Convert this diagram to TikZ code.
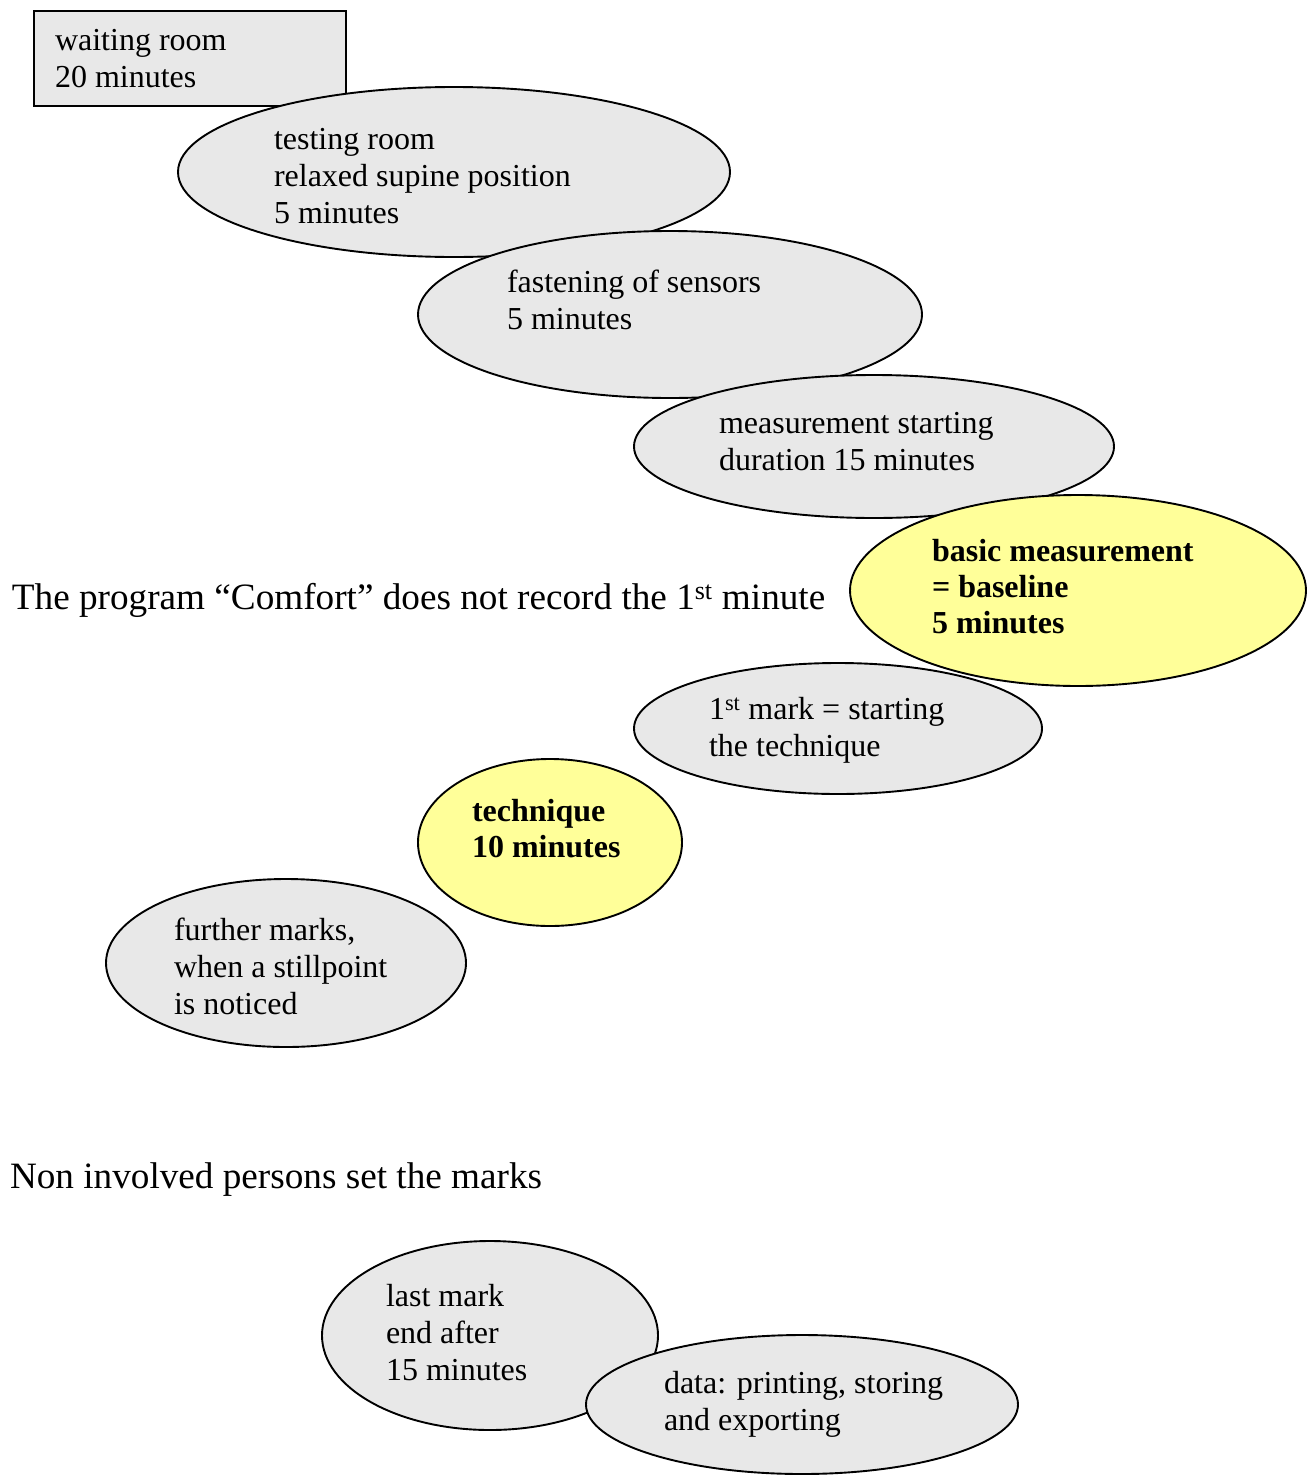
\documentclass[tikz,border=0pt]{standalone}
\usepackage{fontspec}
\setmainfont{Liberation Serif}
\usetikzlibrary{shapes.geometric}
\definecolor{boxgray}{HTML}{E8E8E8}
\definecolor{boxyellow}{HTML}{FFFF99}
\tikzset{
  outline/.style={draw=black, line width=1.9pt, inner sep=0pt, outer sep=0pt},
  rectbox/.style={outline, rectangle, fill=boxgray},
  grayell/.style={outline, ellipse, fill=boxgray},
  yellowell/.style={outline, ellipse, fill=boxyellow},
  txt/.style={anchor=base west, inner sep=0pt, outer sep=0pt, font=\fontsize{32}{37}\selectfont},
  boldtxt/.style={anchor=base west, inner sep=0pt, outer sep=0pt, font=\fontsize{32}{36}\selectfont\bfseries},
  bigtxt/.style={anchor=base west, inner sep=0pt, outer sep=0pt, font=\fontsize{37.2}{42}\selectfont}
}
\newcommand{\lines}[1]{\begin{tabular}[t]{@{}l@{}}#1\end{tabular}}
\begin{document}
\begin{tikzpicture}[x=1pt,y=-1pt]
\useasboundingbox (0,0) rectangle (1312,1475);
% waiting room
\node[rectbox, minimum width=312pt, minimum height=95pt] (r1) at (190,58.5) {};
\node[txt] (t1) at (55,50) {\lines{waiting room\\20 minutes}};
% testing room
\node[grayell, minimum width=552pt, minimum height=170pt] (e2) at (454,172) {};
\node[txt] (t2) at (274,149) {\lines{testing room\\relaxed supine position\\5 minutes}};
% fastening
\node[grayell, minimum width=504pt, minimum height=167pt] (e3) at (670,314.5) {};
\node[txt] (t3) at (507,292.5) {\lines{fastening of sensors\\5 minutes}};
% measurement starting
\node[grayell, minimum width=480pt, minimum height=143pt] (e4) at (874,446.5) {};
\node[txt] (t4) at (719,433.5) {\lines{measurement starting\\duration 15 minutes}};
% basic measurement
\node[yellowell, minimum width=456pt, minimum height=191pt] (e5) at (1078,590.5) {};
\node[boldtxt] (t5) at (932,561) {\lines{basic measurement\\= baseline\\5 minutes}};
% program note
\node[bigtxt] (n1) at (12,609) {The program “Comfort” does not record the 1\textsuperscript{st} minute};
% 1st mark
\node[grayell, minimum width=408pt, minimum height=131pt] (e6) at (838,728.5) {};
\node[txt] (t6) at (709,719.5) {\lines{1\textsuperscript{st} mark = starting\\the technique}};
% technique
\node[yellowell, minimum width=264pt, minimum height=167pt] (e7) at (550,842.5) {};
\node[boldtxt] (t7) at (472,821.5) {\lines{technique\\10 minutes}};
% further marks
\node[grayell, minimum width=360pt, minimum height=168pt] (e8) at (286,963) {};
\node[txt] (t8) at (174,940.5) {\lines{further marks,\\when a stillpoint\\is noticed}};
% note 2
\node[bigtxt] (n2) at (10,1188) {Non involved persons set the marks};
% last mark
\node[grayell, minimum width=336pt, minimum height=189pt] (e9) at (490,1335.5) {};
\node[txt] (t9) at (386,1306.5) {\lines{last mark\\end after\\15 minutes}};
% data
\node[grayell, minimum width=432pt, minimum height=139pt] (e10) at (802,1404.5) {};
\node[txt] (t10) at (664,1393.5) {\lines{data: printing, storing\\and exporting}};
\end{tikzpicture}
\end{document}
